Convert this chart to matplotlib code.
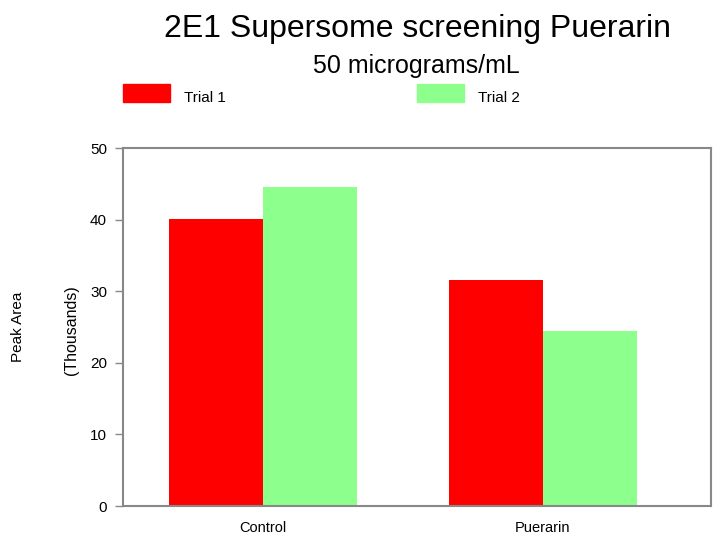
import numpy as np
import matplotlib.pyplot as plt
from matplotlib.patches import Rectangle

plt.rcParams['font.family'] = ['Liberation Sans', 'DejaVu Sans']

# data (peak area, thousands)
groups = ['Control', 'Puerarin']
trial_1 = [40.1, 31.6]
trial_2 = [44.6, 24.5]
series_names = ['Trial 1', 'Trial 2']
colors = ['#ff0000', '#8cff8c']

W, H = 714, 535
fig = plt.figure(figsize=(W / 100, H / 100), dpi=100)

# axes box in pixel coords
left, right, top, bottom = 123, 711, 148, 506
ax = fig.add_axes([left / W, 1 - bottom / H, (right - left) / W, (bottom - top) / H])

x = np.arange(len(groups))
width = 0.334
ax.bar(x - width / 2, trial_1, width, color=colors[0], edgecolor='none')
ax.bar(x + width / 2, trial_2, width, color=colors[1], edgecolor='none')

ax.set_xlim(-0.5, 1.6)
ax.set_ylim(0, 50)
ax.set_yticks([0, 10, 20, 30, 40, 50])
ax.set_xticks(x)
ax.set_xticklabels(groups, fontsize=10.5)
ax.tick_params(axis='x', length=0, pad=11)
ax.tick_params(axis='y', length=6, color='#888888', labelsize=11, pad=5.5, width=1)
for s in ax.spines.values():
    s.set_color('#888888')
    s.set_linewidth(1.5)

# titles
fig.text(417.5 / W, 1 - 37 / H, '2E1 Supersome screening Puerarin', ha='center', va='baseline', fontsize=23)
fig.text(416.5 / W, 1 - 73 / H, '50 micrograms/mL', ha='center', va='baseline', fontsize=18)

# y labels
fig.text(18.5 / W, 1 - 327 / H, 'Peak Area', rotation=90, ha='center', va='center', fontsize=11)
fig.text(72 / W, 1 - 330 / H, '(Thousands)', rotation=90, ha='center', va='center', fontsize=11.5)

# legend across the top
for i, (px, tx, name) in enumerate(zip([123, 417], [184, 478], series_names)):
    fig.patches.append(Rectangle((px / W, 1 - 102 / H), 47 / W, 18 / H,
                                 transform=fig.transFigure, color=colors[i], figure=fig))
    fig.text(tx / W, 1 - 102 / H, name, ha='left', va='baseline', fontsize=11)

plt.savefig('out.png', dpi=100)
